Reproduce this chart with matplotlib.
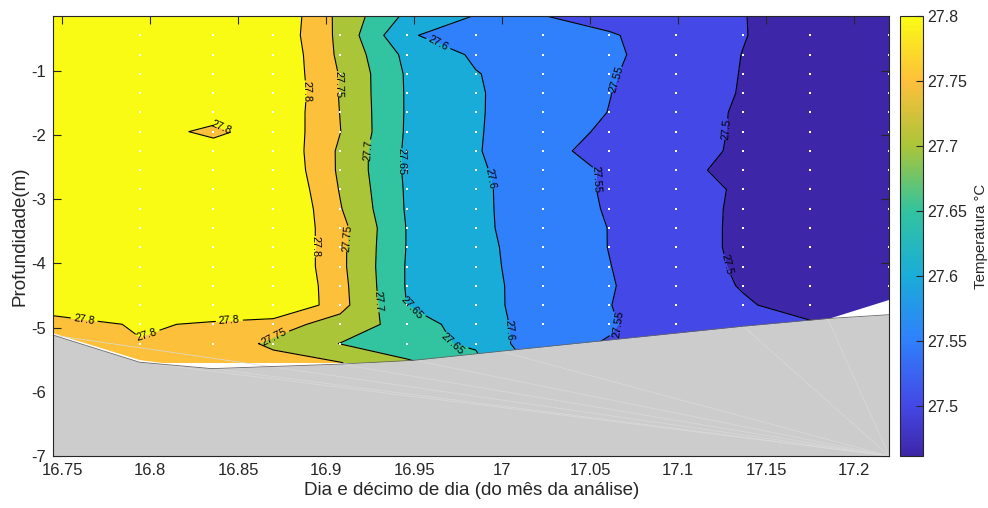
import numpy as np
import matplotlib.pyplot as plt
from matplotlib.colors import LinearSegmentedColormap, Normalize
from matplotlib.cm import ScalarMappable

plt.rcParams['font.family'] = ['Liberation Sans', 'DejaVu Sans']
plt.rcParams['axes.unicode_minus'] = False

# colunas da grade (dia e decimo de dia) e profundidades (m)
dias = [16.745, 16.794, 16.836, 16.870, 16.908, 16.946, 16.985,
        17.023, 17.061, 17.099, 17.137, 17.175, 17.220]
prof = [-0.15, -0.45, -0.75, -1.05, -1.35, -1.65, -1.95, -2.25, -2.55, -2.85,
        -3.15, -3.45, -3.75, -4.05, -4.35, -4.65, -4.95, -5.25, -5.55]

# temperatura (graus C), uma linha por profundidade
temp = [
    [27.84, 27.84, 27.84, 27.847, 27.737, 27.639, 27.598, 27.551, 27.534, 27.517, 27.501, 27.484, 27.465],
    [27.84, 27.84, 27.84, 27.842, 27.738, 27.603, 27.585, 27.569, 27.554, 27.529, 27.502, 27.474, 27.465],
    [27.84, 27.84, 27.84, 27.849, 27.740, 27.637, 27.593, 27.575, 27.557, 27.530, 27.499, 27.469, 27.465],
    [27.84, 27.84, 27.84, 27.847, 27.747, 27.644, 27.602, 27.578, 27.554, 27.526, 27.498, 27.469, 27.465],
    [27.84, 27.84, 27.84, 27.852, 27.747, 27.645, 27.604, 27.577, 27.551, 27.524, 27.497, 27.471, 27.465],
    [27.84, 27.84, 27.84, 27.846, 27.749, 27.645, 27.604, 27.576, 27.549, 27.521, 27.494, 27.467, 27.465],
    [27.84, 27.84, 27.78, 27.844, 27.751, 27.644, 27.604, 27.571, 27.542, 27.518, 27.494, 27.469, 27.465],
    [27.84, 27.84, 27.84, 27.849, 27.742, 27.642, 27.604, 27.562, 27.535, 27.514, 27.494, 27.473, 27.465],
    [27.84, 27.84, 27.84, 27.854, 27.742, 27.642, 27.606, 27.575, 27.544, 27.514, 27.484, 27.465, 27.465],
    [27.84, 27.84, 27.84, 27.863, 27.747, 27.644, 27.609, 27.575, 27.544, 27.518, 27.494, 27.469, 27.465],
    [27.84, 27.84, 27.84, 27.870, 27.753, 27.645, 27.609, 27.576, 27.546, 27.519, 27.492, 27.466, 27.465],
    [27.84, 27.84, 27.84, 27.859, 27.765, 27.648, 27.609, 27.578, 27.549, 27.520, 27.491, 27.465, 27.465],
    [27.84, 27.84, 27.84, 27.866, 27.761, 27.648, 27.611, 27.580, 27.549, 27.520, 27.491, 27.465, 27.465],
    [27.84, 27.84, 27.84, 27.866, 27.761, 27.646, 27.612, 27.581, 27.551, 27.522, 27.493, 27.465, 27.465],
    [27.84, 27.84, 27.84, 27.872, 27.765, 27.646, 27.613, 27.583, 27.553, 27.524, 27.497, 27.468, 27.465],
    [27.85, 27.85, 27.86, 27.872, 27.767, 27.649, 27.614, 27.582, 27.551, 27.524, 27.505, 27.482, 27.465],
    [27.76, 27.81, 27.79, 27.770, 27.730, 27.680, 27.620, 27.580, 27.553, 27.530, 27.515, 27.505, 27.490],
    [27.77, 27.795, 27.78, 27.740, 27.699, 27.660, 27.645, 27.559, 27.548, 27.530, 27.515, 27.505, 27.490],
    [27.77, 27.78, 27.79, 27.770, 27.752, 27.710, 27.660, 27.580, 27.548, 27.530, 27.515, 27.505, 27.490],
]

# fundo (batimetria) e limite inferior dos dados
fundo_x = [16.745, 16.794, 16.835, 16.908, 16.950, 16.999, 17.137, 17.185, 17.220]
fundo_z = [-5.12, -5.54, -5.64, -5.57, -5.51, -5.37, -4.98, -4.86, -4.80]
limite_z = [-5.085, -5.50, -5.64, -5.57, -5.51, -5.37, -4.98, -4.86, -4.56]

niveis = [27.5, 27.55, 27.6, 27.65, 27.7, 27.75, 27.8]
t_min, t_max = 27.4615, 27.8

# posicoes aproximadas dos rotulos das isotermas
rotulos = [(16.840, -1.91), (16.888, -1.32), (16.907, -1.21), (16.922, -2.23),
           (16.937, -2.41), (16.962, -0.65), (16.992, -2.69), (17.064, -1.13),
           (17.053, -2.69), (17.127, -1.91), (16.895, -3.74), (16.915, -3.62),
           (16.927, -4.60), (16.946, -4.79), (17.004, -5.05), (17.066, -4.95),
           (17.128, -4.02), (16.761, -5.08), (16.845, -4.90), (16.869, -5.08),
           (16.805, -5.44), (16.967, -5.39)]

parula = LinearSegmentedColormap.from_list('parula', [
    (0.000, (0.2422, 0.1504, 0.6603)),
    (0.114, (0.267, 0.282, 0.902)),
    (0.262, (0.188, 0.502, 0.988)),
    (0.410, (0.102, 0.678, 0.847)),
    (0.557, (0.196, 0.765, 0.627)),
    (0.705, (0.667, 0.773, 0.220)),
    (0.852, (0.992, 0.749, 0.235)),
    (1.000, (0.9769, 0.9839, 0.0805)),
])
norm = Normalize(vmin=t_min, vmax=t_max)

faixas = [t_min] + niveis + [27.9]
cores = [parula(norm(v)) for v in faixas[:-1]]

X, Z = np.meshgrid(dias, prof)
T = np.array(temp)

fig = plt.figure(figsize=(9.88, 5.08), dpi=100)
ax = fig.add_axes([0.054, 0.1024, 0.846, 0.866])
cax = fig.add_axes([0.911, 0.1024, 0.023, 0.866])

ax.contourf(X, Z, T, levels=faixas, colors=cores, zorder=1)
cs = ax.contour(X, Z, T, levels=niveis, colors='k', linewidths=0.8, zorder=2)
ax.clabel(cs, manual=rotulos, fontsize=7.8, inline=True, fmt='%g', inline_spacing=3)

# pontos de medida
fundo_no_ponto = np.interp(X, fundo_x, fundo_z)
ok = (Z > fundo_no_ponto + 0.1) & (Z < -0.3) & (X > 16.75)
ax.plot(X[ok], Z[ok], 's', color='white', markersize=1.8, markeredgewidth=0, zorder=2.5)

ax.fill_between(fundo_x, limite_z, -7.5, color='white', lw=0, zorder=3.2)
ax.fill_between(fundo_x, fundo_z, -7.5, color='#cccccc', lw=0, zorder=3.4)
for fx, fz in zip(fundo_x, fundo_z):
    ax.plot([17.22, fx], [-7, fz], color='#dadada', lw=0.5, zorder=3.45)
ax.plot(fundo_x, fundo_z, color='#666666', lw=0.6, zorder=3.5)

ax.set_xlim(16.745, 17.22)
ax.set_ylim(-7, -0.15)
ax.set_xticks([16.75, 16.8, 16.85, 16.9, 16.95, 17, 17.05, 17.1, 17.15, 17.2])
ax.set_xticklabels(['16.75', '16.8', '16.85', '16.9', '16.95', '17', '17.05', '17.1', '17.15', '17.2'])
ax.set_yticks([-7, -6, -5, -4, -3, -2, -1])
ax.set_yticklabels(['-7', '-6', '-5', '-4', '-3', '-2', '-1'])

txt = '#262626'
ax.tick_params(direction='in', top=True, right=True, length=5.8, width=0.8,
               labelsize=12, colors=txt, pad=5)
for s in ax.spines.values():
    s.set_color(txt)
    s.set_linewidth(0.8)
    s.set_zorder(5)
ax.set_xlabel('Dia e décimo de dia (do mês da análise)', fontsize=13.5, color=txt, labelpad=3)
ax.set_ylabel('Profundidade(m)', fontsize=13.5, color=txt, labelpad=2)

cb = fig.colorbar(ScalarMappable(norm=norm, cmap=parula), cax=cax)
cb.set_ticks(niveis)
cb.set_ticklabels([f'{v:g}' for v in niveis])
cb.ax.tick_params(direction='in', length=5, width=0.8, labelsize=11.5, colors=txt, pad=3)
cb.outline.set_edgecolor(txt)
cb.outline.set_linewidth(0.8)
cb.set_label('Temperatura °C', fontsize=10.8, color=txt)
cb.ax.yaxis.set_label_coords(3.25, 0.5)

fig.savefig('out.png', dpi=100)
